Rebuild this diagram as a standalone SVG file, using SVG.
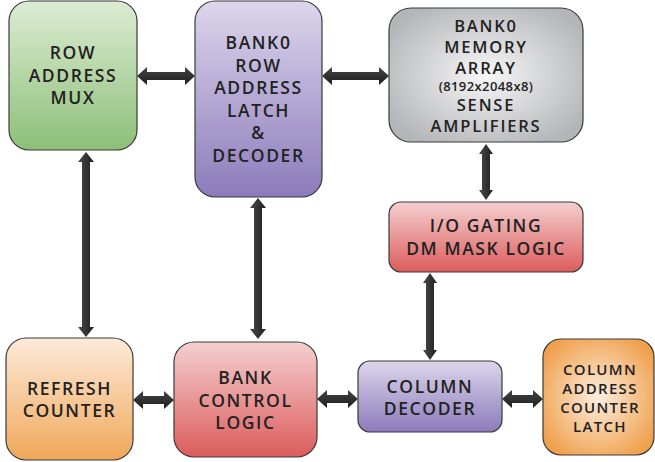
<svg xmlns="http://www.w3.org/2000/svg" width="655" height="462" viewBox="0 0 655 462">
<defs>
<linearGradient id="gGreen" x1="0" y1="0" x2="0" y2="1"><stop offset="0" stop-color="#dcecd4"/><stop offset="1" stop-color="#8dbf78"/></linearGradient>
<linearGradient id="gPurple" x1="0" y1="0" x2="0" y2="1"><stop offset="0" stop-color="#ddd6ec"/><stop offset="1" stop-color="#8b7bbb"/></linearGradient>
<linearGradient id="gRed" x1="0" y1="0" x2="0" y2="1"><stop offset="0" stop-color="#f5cfcf"/><stop offset="1" stop-color="#dc5c5c"/></linearGradient>
<linearGradient id="gOrange" x1="0" y1="0" x2="0" y2="1"><stop offset="0" stop-color="#fdeadb"/><stop offset="1" stop-color="#f0a858"/></linearGradient>
<radialGradient id="gGray" cx="0.5" cy="0.5" r="0.6"><stop offset="0" stop-color="#f7f7f8"/><stop offset="1" stop-color="#b4b5b8"/></radialGradient>
<radialGradient id="gOrangeR" cx="0.5" cy="0.5" r="0.6"><stop offset="0" stop-color="#fdeee0"/><stop offset="1" stop-color="#f0a04c"/></radialGradient>
<linearGradient id="gArrH" x1="0" y1="0" x2="0" y2="1"><stop offset="0" stop-color="#444"/><stop offset="1" stop-color="#1f1f1f"/></linearGradient>
<linearGradient id="gArrV" x1="0" y1="0" x2="1" y2="0"><stop offset="0" stop-color="#4a4a4a"/><stop offset="1" stop-color="#1f1f1f"/></linearGradient>
</defs>
<style>
.box{stroke:#3a3a3a;stroke-width:1.2}
text{font-family:"Open Sans","Liberation Sans",sans-serif;font-weight:600;font-size:17.5px;fill:#222;text-anchor:middle;letter-spacing:1.6px}
.mem{font-size:16.5px;letter-spacing:1.8px}
.sm{font-size:13px;letter-spacing:0.4px}
.md{font-size:15px;letter-spacing:1.3px}
.ah{fill:url(#gArrH)}
.av{fill:url(#gArrV)}
</style>
<g id="connectors">
<path class="ah" d="M137,76 L147,67 L147,72 L185,72 L185,67 L195,76 L185,85 L185,80 L147,80 L147,85 Z"/>
<path class="ah" d="M322,76 L332,67 L332,72 L379,72 L379,67 L389,76 L379,85 L379,80 L332,80 L332,85 Z"/>
<path class="ah" d="M133,400 L143,391 L143,396 L164,396 L164,391 L174,400 L164,409 L164,404 L143,404 L143,409 Z"/>
<path class="ah" d="M317,399 L327,390 L327,395 L348,395 L348,390 L358,399 L348,408 L348,403 L327,403 L327,408 Z"/>
<path class="ah" d="M502,399 L512,390 L512,395 L533,395 L533,390 L543,399 L533,408 L533,403 L512,403 L512,408 Z"/>
<path class="av" d="M86,152 L94,162 L90,162 L90,327 L94,327 L86,337 L78,327 L82,327 L82,162 L78,162 Z"/>
<path class="av" d="M258,198 L266,208 L262,208 L262,329 L266,329 L258,339 L250,329 L254,329 L254,208 L250,208 Z"/>
<path class="av" d="M486,144 L493,154 L490,154 L490,190 L493,190 L486,200 L479,190 L482,190 L482,154 L479,154 Z"/>
<path class="av" d="M430,273 L437,283 L434,283 L434,350 L437,350 L430,360 L423,350 L426,350 L426,283 L423,283 Z"/>
</g>
<g id="row-address-mux">
<rect class="box" x="9" y="1" width="128" height="149" rx="20" fill="url(#gGreen)"/>
<text x="73" y="59">ROW</text><text x="73" y="82">ADDRESS</text><text x="73" y="104">MUX</text>
</g>
<g id="bank0-row-latch">
<rect class="box" x="195" y="1" width="127" height="196" rx="20" fill="url(#gPurple)"/>
<text x="258.5" y="49">BANK0</text><text x="258.5" y="72">ROW</text><text x="258.5" y="94">ADDRESS</text><text x="258.5" y="117">LATCH</text><text x="258.5" y="139">&amp;</text><text x="258.5" y="162">DECODER</text>
</g>
<g id="bank0-memory-array">
<rect class="box" x="389" y="8" width="194" height="134" rx="22" fill="url(#gGray)"/>
<text class="mem" x="486" y="32">BANK0</text><text class="mem" x="486" y="53">MEMORY</text><text class="mem" x="486" y="74">ARRAY</text><text class="sm" x="486" y="91">(8192x2048x8)</text><text class="mem" x="486" y="111">SENSE</text><text class="mem" x="486" y="132">AMPLIFIERS</text>
</g>
<g id="io-gating">
<rect class="box" x="389" y="202" width="194" height="70" rx="12" fill="url(#gRed)"/>
<text x="486" y="232">I/O GATING</text><text x="486" y="255">DM MASK LOGIC</text>
</g>
<g id="refresh-counter">
<rect class="box" x="6" y="338" width="127" height="122" rx="20" fill="url(#gOrange)"/>
<text x="69.5" y="395">REFRESH</text><text x="69.5" y="417">COUNTER</text>
</g>
<g id="bank-control-logic">
<rect class="box" x="174" y="342" width="143" height="115" rx="20" fill="url(#gRed)"/>
<text x="245.5" y="384">BANK</text><text x="245.5" y="407">CONTROL</text><text x="245.5" y="429">LOGIC</text>
</g>
<g id="column-decoder">
<rect class="box" x="358" y="361" width="144" height="71" rx="12" fill="url(#gPurple)"/>
<text x="430" y="393">COLUMN</text><text x="430" y="415">DECODER</text>
</g>
<g id="column-address-counter-latch">
<rect class="box" x="543" y="339" width="111" height="116" rx="18" fill="url(#gOrangeR)"/>
<text class="md" x="600" y="375">COLUMN</text><text class="md" x="600" y="394">ADDRESS</text><text class="md" x="600" y="413">COUNTER</text><text class="md" x="600" y="432">LATCH</text>
</g>
</svg>
